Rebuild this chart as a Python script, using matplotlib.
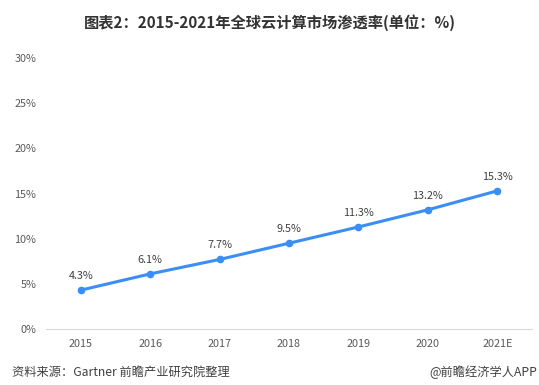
import matplotlib
matplotlib.use('Agg')
import matplotlib.pyplot as plt
import numpy as np

plt.rcParams['font.family'] = ['Noto Sans CJK SC', 'DejaVu Sans']

# Data
years = ['2015', '2016', '2017', '2018', '2019', '2020', '2021E']
rate = [4.3, 6.1, 7.7, 9.5, 11.3, 13.2, 15.3]
yticks = [0, 5, 10, 15, 20, 25, 30]

fig = plt.figure(figsize=(5.39, 3.85), dpi=100)
ax = fig.add_axes([0.0853, 0.1455, 0.9017, 0.7035])

x = np.arange(len(years))
ax.plot(x, rate, '-o', color='#3a8ef6', linewidth=2.2, markersize=4.5)
for xi, v in zip(x, rate):
    ax.annotate(f'{v}%', (xi, v), xytext=(0, 6.5), textcoords='offset points',
                ha='center', va='bottom', fontsize=7.8, color='#404040')

ax.set_xlim(-0.5, len(years) - 0.5)
ax.set_ylim(0, 30)
ax.set_xticks(x)
ax.set_xticklabels(years)
ax.set_yticks(yticks)
ax.set_yticklabels([f'{t}%' for t in yticks])
ax.tick_params(axis='both', length=0, labelsize=7.8, labelcolor='#595959')
ax.tick_params(axis='x', pad=7)
ax.tick_params(axis='y', pad=7)
for s in ['top', 'right', 'left']:
    ax.spines[s].set_visible(False)
ax.spines['bottom'].set_color('#d9d9d9')

fig.text(0.5, 0.942, '图表2：2015-2021年全球云计算市场渗透率(单位：%)', ha='center', va='center',
         fontsize=11, fontweight='bold', color='#333333')
fig.text(0.022, 0.015, '资料来源：Gartner 前瞻产业研究院整理', ha='left', va='bottom',
         fontsize=8.8, color='#404040')
fig.text(0.996, 0.015, '@前瞻经济学人APP', ha='right', va='bottom',
         fontsize=8.8, color='#404040')

fig.savefig('out.png', dpi=100)
